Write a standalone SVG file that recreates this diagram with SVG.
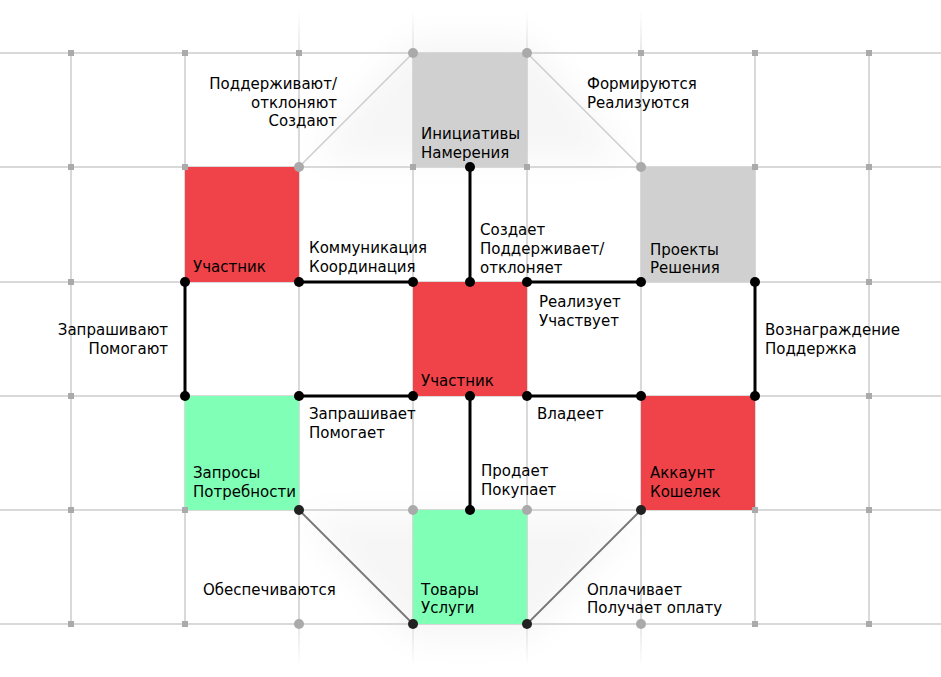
<svg xmlns="http://www.w3.org/2000/svg" width="941" height="677" viewBox="0 0 941 677">
<style>
  .grid { stroke: #cccccc; stroke-width: 1.5; fill: none; }
  .sq { fill: #aaaaaa; }
  .gc { fill: #aaaaaa; }
  .bd { fill: #000000; }
  .dd { fill: #222222; }
  .conn { stroke: #000000; stroke-width: 3; fill: none; }
  .diag-l { stroke: #cccccc; stroke-width: 1.5; fill: none; }
  .diag-d { stroke: #777777; stroke-width: 1.8; fill: none; }
  .red { fill: #f04349; }
  .green { fill: #80ffb6; }
  .gray { fill: #d0d0d0; }
  text { font-family: "DejaVu Sans", Verdana, sans-serif; font-size: 15px; fill: #000; }
  .r { text-anchor: end; }
</style>
<defs>
  <filter id="blur" x="-50%" y="-50%" width="200%" height="200%">
    <feGaussianBlur stdDeviation="18"/>
  </filter>
  <linearGradient id="fadeUp" gradientUnits="userSpaceOnUse" x1="0" y1="10" x2="0" y2="53">
    <stop offset="0" stop-color="#cccccc" stop-opacity="0"/>
    <stop offset="1" stop-color="#cccccc" stop-opacity="0.6"/>
  </linearGradient>
  <linearGradient id="fadeDown" gradientUnits="userSpaceOnUse" x1="0" y1="624" x2="0" y2="668">
    <stop offset="0" stop-color="#cccccc" stop-opacity="0.6"/>
    <stop offset="1" stop-color="#cccccc" stop-opacity="0"/>
  </linearGradient>
</defs>
<rect width="941" height="677" fill="#ffffff"/>
<g id="shadow" opacity="0.035" filter="url(#blur)">
  <polygon points="310,160 413,38 527,38 630,160" fill="#000"/>
  <polygon points="300,515 413,640 527,640 640,515" fill="#000"/>
</g>
<g id="grid">
  <line class="grid" x1="0" y1="53" x2="941" y2="53"/>
  <line class="grid" x1="0" y1="167" x2="941" y2="167"/>
  <line class="grid" x1="0" y1="282" x2="941" y2="282"/>
  <line class="grid" x1="0" y1="396" x2="941" y2="396"/>
  <line class="grid" x1="0" y1="510" x2="941" y2="510"/>
  <line class="grid" x1="0" y1="624" x2="941" y2="624"/>
  <line class="grid" x1="71" y1="53" x2="71" y2="624"/>
  <line class="grid" x1="185" y1="53" x2="185" y2="624"/>
  <line class="grid" x1="299" y1="53" x2="299" y2="624"/>
  <line class="grid" x1="413" y1="53" x2="413" y2="624"/>
  <line class="grid" x1="527" y1="53" x2="527" y2="624"/>
  <line class="grid" x1="641" y1="53" x2="641" y2="624"/>
  <line class="grid" x1="755" y1="53" x2="755" y2="624"/>
  <line class="grid" x1="869" y1="53" x2="869" y2="624"/>
  <g stroke="url(#fadeUp)" stroke-width="1.5">
    <line x1="299" y1="10" x2="299" y2="53"/>
    <line x1="413" y1="10" x2="413" y2="53"/>
    <line x1="527" y1="10" x2="527" y2="53"/>
    <line x1="641" y1="10" x2="641" y2="53"/>
  </g>
  <g stroke="url(#fadeDown)" stroke-width="1.5">
    <line x1="299" y1="624" x2="299" y2="668"/>
    <line x1="413" y1="624" x2="413" y2="668"/>
    <line x1="527" y1="624" x2="527" y2="668"/>
    <line x1="641" y1="624" x2="641" y2="668"/>
  </g>
</g>
<g id="n-initiatives"><rect class="gray" x="413" y="53" width="114" height="114"/><text x="421" y="139">Инициативы</text><text x="421" y="158">Намерения</text></g>
<g id="n-participant-1"><rect class="red" x="185" y="167" width="114" height="115"/><text x="193" y="272">Участник</text></g>
<g id="n-projects"><rect class="gray" x="641" y="167" width="114" height="115"/><text x="650" y="255">Проекты</text><text x="650" y="273">Решения</text></g>
<g id="n-participant-2"><rect class="red" x="413" y="282" width="114" height="114"/><text x="421" y="386">Участник</text></g>
<g id="n-requests"><rect class="green" x="185" y="396" width="114" height="114"/><text x="193" y="478">Запросы</text><text x="193" y="497">Потребности</text></g>
<g id="n-account"><rect class="red" x="641" y="396" width="114" height="114"/><text x="650" y="478">Аккаунт</text><text x="650" y="497">Кошелек</text></g>
<g id="n-goods"><rect class="green" x="413" y="510" width="114" height="114"/><text x="421" y="595">Товары</text><text x="421" y="613">Услуги</text></g>
<g id="markers">
  <g class="sq">
    <rect x="68" y="50" width="6" height="6"/><rect x="182" y="50" width="6" height="6"/><rect x="296" y="50" width="6" height="6"/><rect x="638" y="50" width="6" height="6"/><rect x="752" y="50" width="6" height="6"/><rect x="866" y="50" width="6" height="6"/>
    <rect x="68" y="164" width="6" height="6"/><rect x="182" y="164" width="6" height="6"/><rect x="410" y="164" width="6" height="6"/><rect x="524" y="164" width="6" height="6"/><rect x="752" y="164" width="6" height="6"/><rect x="866" y="164" width="6" height="6"/>
    <rect x="68" y="279" width="6" height="6"/><rect x="866" y="279" width="6" height="6"/>
    <rect x="68" y="393" width="6" height="6"/><rect x="866" y="393" width="6" height="6"/>
    <rect x="68" y="507" width="6" height="6"/><rect x="182" y="507" width="6" height="6"/><rect x="752" y="507" width="6" height="6"/><rect x="866" y="507" width="6" height="6"/>
    <rect x="68" y="621" width="6" height="6"/><rect x="182" y="621" width="6" height="6"/><rect x="752" y="621" width="6" height="6"/><rect x="866" y="621" width="6" height="6"/>
  </g>
</g>
<g id="connectors">
  <line class="diag-l" x1="299" y1="167" x2="413" y2="53"/>
  <line class="diag-l" x1="527" y1="53" x2="641" y2="167"/>
  <line class="diag-d" x1="299" y1="510" x2="413" y2="624"/>
  <line class="diag-d" x1="527" y1="624" x2="641" y2="510"/>
  <line class="conn" x1="299" y1="282" x2="413" y2="282"/>
  <line class="conn" x1="185" y1="282" x2="185" y2="396"/>
  <line class="conn" x1="299" y1="396" x2="413" y2="396"/>
  <line class="conn" x1="470" y1="167" x2="470" y2="282"/>
  <line class="conn" x1="527" y1="282" x2="641" y2="282"/>
  <line class="conn" x1="755" y1="282" x2="755" y2="396"/>
  <line class="conn" x1="527" y1="396" x2="641" y2="396"/>
  <line class="conn" x1="470" y1="396" x2="470" y2="510"/>
  <g class="gc">
    <circle cx="413" cy="53" r="5"/><circle cx="527" cy="53" r="5"/><circle cx="299" cy="167" r="5"/><circle cx="641" cy="167" r="5"/>
    <circle cx="413" cy="510" r="5"/><circle cx="527" cy="510" r="5"/><circle cx="299" cy="624" r="5"/><circle cx="641" cy="624" r="5"/>
  </g>
  <g class="bd">
    <circle cx="185" cy="282" r="5"/><circle cx="299" cy="282" r="5"/><circle cx="413" cy="282" r="5"/><circle cx="470" cy="167" r="5"/><circle cx="470" cy="282" r="5"/><circle cx="527" cy="282" r="5"/><circle cx="641" cy="282" r="5"/><circle cx="755" cy="282" r="5"/>
    <circle cx="185" cy="396" r="5"/><circle cx="299" cy="396" r="5"/><circle cx="413" cy="396" r="5"/><circle cx="470" cy="396" r="5"/><circle cx="527" cy="396" r="5"/><circle cx="641" cy="396" r="5"/><circle cx="755" cy="396" r="5"/>
    <circle cx="470" cy="510" r="5"/>
  </g>
  <g class="dd">
    <circle cx="299" cy="510" r="5"/><circle cx="413" cy="624" r="5"/><circle cx="527" cy="624" r="5"/><circle cx="641" cy="510" r="5"/>
  </g>
  <g id="labels">
    <text class="r" x="337" y="89">Поддерживают/</text><text class="r" x="337" y="108">отклоняют</text><text class="r" x="337" y="126">Создают</text>
    <text x="587" y="89">Формируются</text><text x="587" y="108">Реализуются</text>
    <text x="309" y="253">Коммуникация</text><text x="309" y="272">Координация</text>
    <text x="480" y="235">Создает</text><text x="480" y="254">Поддерживает/</text><text x="480" y="273">отклоняет</text>
    <text x="539" y="307">Реализует</text><text x="539" y="326">Участвует</text>
    <text class="r" x="168" y="335">Запрашивают</text><text class="r" x="168" y="354">Помогают</text>
    <text x="765" y="335">Вознаграждение</text><text x="765" y="354">Поддержка</text>
    <text x="309" y="419">Запрашивает</text><text x="309" y="438">Помогает</text>
    <text x="537" y="419">Владеет</text>
    <text x="481" y="476">Продает</text><text x="481" y="495">Покупает</text>
    <text x="203" y="595">Обеспечиваются</text>
    <text x="587" y="595">Оплачивает</text><text x="587" y="613">Получает оплату</text>
  </g>
</g>
</svg>
